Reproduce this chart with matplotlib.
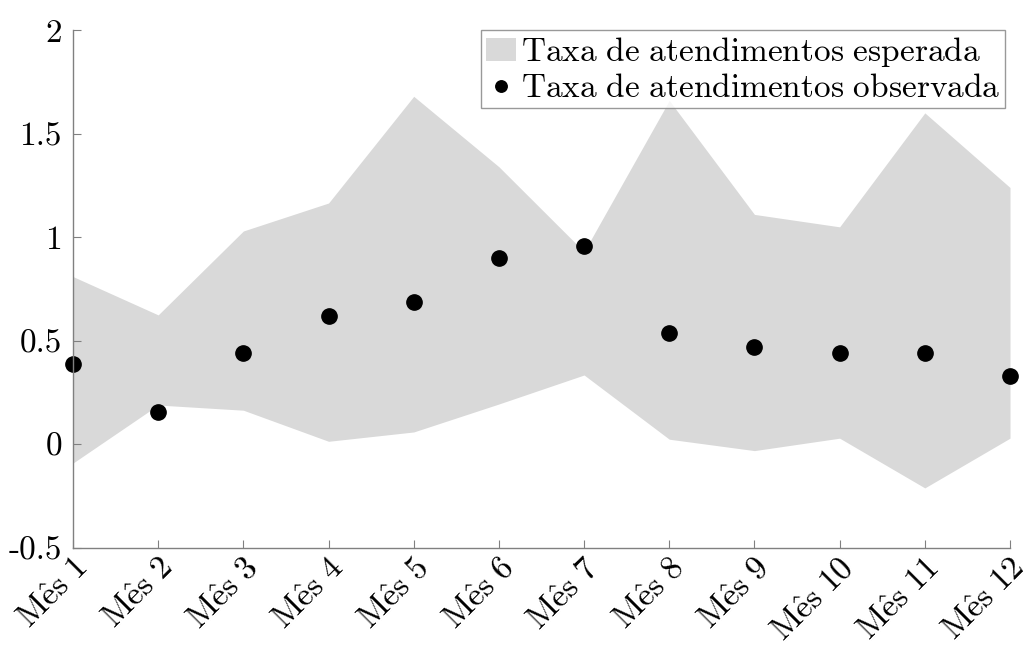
import numpy as np
import matplotlib
matplotlib.use("Agg")
import matplotlib.pyplot as plt

# Meses e valores da taxa de atendimentos
meses = [f"Mês {i}" for i in range(1, 13)]
limite_inferior = [-0.09, 0.19, 0.165, 0.015, 0.06, 0.195, 0.335, 0.025, -0.03, 0.03, -0.21, 0.03]
limite_superior = [0.81, 0.625, 1.03, 1.165, 1.68, 1.34, 0.93, 1.66, 1.11, 1.05, 1.60, 1.24]
taxa_observada = [0.388, 0.156, 0.44, 0.62, 0.687, 0.90, 0.957, 0.538, 0.47, 0.44, 0.44, 0.33]
y_ticks = [-0.5, 0, 0.5, 1, 1.5, 2]
y_rotulos = ["-0.5", "0", "0.5", "1", "1.5", "2"]

plt.rcParams["mathtext.fontset"] = "cm"
plt.rcParams["font.family"] = ["cmr10", "DejaVu Serif"]
plt.rcParams["axes.unicode_minus"] = False

cinza = "#808080"

fig = plt.figure(figsize=(10.32, 6.48), dpi=100)
ax = fig.add_axes([73 / 1032, 100 / 648, 937 / 1032, 518 / 648])

x = np.arange(1, 13)
ax.fill_between(x, limite_inferior, limite_superior, color="#d9d9d9", lw=0,
                label=r"$\mathrm{Taxa\ de\ atendimentos\ esperada}$")
ax.plot(x, taxa_observada, "o", color="black", ms=11, clip_on=False,
        label=r"$\mathrm{Taxa\ de\ atendimentos\ observada}$")

ax.set_xlim(1, 12)
ax.set_ylim(-0.5, 2)

ax.set_yticks(y_ticks)
ax.set_yticklabels(y_rotulos)
ax.set_xticks(x)
ax.set_xticklabels([r"$\mathrm{M\hat{e}s\ %s}$" % m.split()[1] for m in meses],
                   rotation=45, ha="right", rotation_mode="anchor")

for s in ["top", "right"]:
    ax.spines[s].set_visible(False)
for s in ["left", "bottom"]:
    ax.spines[s].set_color(cinza)
    ax.spines[s].set_linewidth(1.0)
ax.tick_params(direction="in", length=6, color=cinza, labelsize=24, pad=8)
ax.tick_params(axis="x", pad=4)

leg = ax.legend(loc="upper right", bbox_to_anchor=(0.995, 1.0), fontsize=24,
                frameon=True, fancybox=False, borderpad=0.15, labelspacing=0.15,
                handlelength=0.9, handletextpad=0.15, borderaxespad=0.0,
                markerscale=0.75)
leg.get_frame().set_edgecolor(cinza)
leg.get_frame().set_linewidth(1.0)

fig.savefig("out.png", dpi=100)
